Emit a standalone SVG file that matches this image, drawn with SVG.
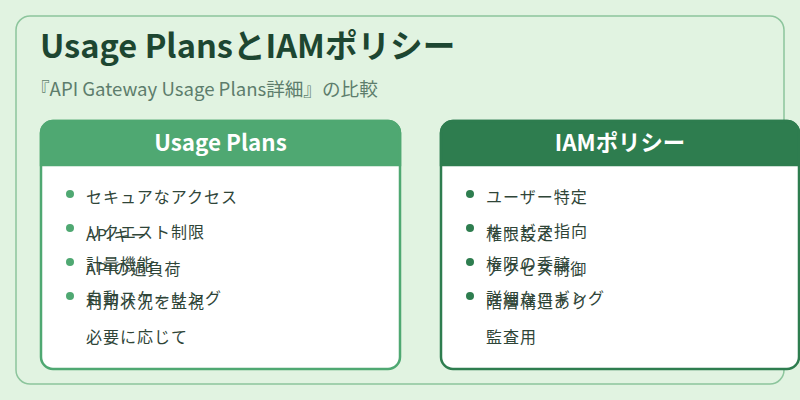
<svg xmlns="http://www.w3.org/2000/svg" width="800" height="400" viewBox="0 0 800 400">
<style>
  .jp { font-family: "Noto Sans CJK JP", "Noto Sans", sans-serif; }
  .title { font-size: 32.6px; font-weight: 700; fill: #1d4631; }
  .sub { font-size: 18.6px; fill: #5d7d6c; }
  .hdr { font-size: 22.4px; font-weight: 700; fill: #ffffff; }
  .item { font-size: 16px; fill: #2f4538; letter-spacing: 1px; }
  .bl { fill: #4fa872; }
  .br { fill: #2e7d4f; }
</style>
<rect x="0" y="0" width="800" height="400" fill="#e1f3e1"/>
<g id="frame">
  <rect x="16" y="16" width="768" height="368" rx="14" fill="#e1f3e1" stroke="#8cc59c" stroke-width="1.5"/>
  <text class="jp title" x="40" y="58">Usage PlansとIAMポリシー</text>
  <text class="jp sub" x="31" y="96">『API Gateway Usage Plans詳細』の比較</text>
</g>
<g id="usage-plans">
  <rect x="41" y="121" width="359" height="248" rx="12" fill="#ffffff" stroke="#4fa872" stroke-width="2.5"/>
  <path d="M41,165 V133 A12,12 0 0 1 53,121 H388 A12,12 0 0 1 400,133 V165 Z" fill="#4fa872" stroke="#4fa872" stroke-width="2.5"/>
  <text class="jp hdr" x="220.5" y="151" text-anchor="middle">Usage Plans</text>
  <circle class="bl" cx="70" cy="194" r="4"/>
  <circle class="bl" cx="70" cy="228" r="4"/>
  <circle class="bl" cx="70" cy="262" r="4"/>
  <circle class="bl" cx="70" cy="296" r="4"/>
  <text class="jp item" x="86" y="203">セキュアなアクセス</text>
  <text class="jp item" x="86" y="238">リクエスト制限</text>
  <text class="jp item" x="86" y="241">APIキー</text>
  <text class="jp item" x="86" y="270">計量機能</text>
  <text class="jp item" x="86" y="275">APIの過負荷</text>
  <text class="jp item" x="86" y="304">自動スケーリング</text>
  <text class="jp item" x="86" y="308">利用状況を監視</text>
  <text class="jp item" x="86" y="343">必要に応じて</text>
</g>
<g id="iam-policy">
  <rect x="441" y="121" width="358" height="248" rx="12" fill="#ffffff" stroke="#2e7d4f" stroke-width="2.5"/>
  <path d="M441,165 V133 A12,12 0 0 1 453,121 H787 A12,12 0 0 1 799,133 V165 Z" fill="#2e7d4f" stroke="#2e7d4f" stroke-width="2.5"/>
  <text class="jp hdr" x="620" y="151" text-anchor="middle">IAMポリシー</text>
  <circle class="br" cx="470" cy="194" r="4"/>
  <circle class="br" cx="470" cy="228" r="4"/>
  <circle class="br" cx="470" cy="262" r="4"/>
  <circle class="br" cx="470" cy="296" r="4"/>
  <text class="jp item" x="486" y="203">ユーザー特定</text>
  <text class="jp item" x="486" y="237">サービス指向</text>
  <text class="jp item" x="486" y="240">権限設定</text>
  <text class="jp item" x="486" y="270">権限の委譲</text>
  <text class="jp item" x="486" y="275">アクセス制御</text>
  <text class="jp item" x="486" y="304">詳細なロギング</text>
  <text class="jp item" x="486" y="308">階層構造あり</text>
  <text class="jp item" x="486" y="343">監査用</text>
</g>
</svg>
